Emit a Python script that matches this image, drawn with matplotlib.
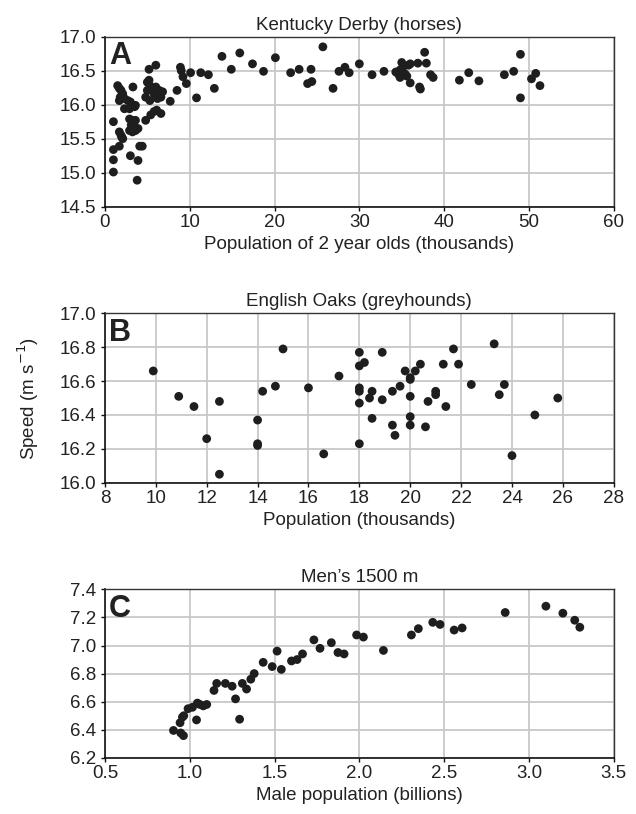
import matplotlib
matplotlib.use("Agg")
import matplotlib.pyplot as plt
import numpy as np

plt.rcParams['font.family'] = ['Liberation Sans', 'DejaVu Sans']

# Panel A: Kentucky Derby (horses)
derby_pop = [1.0, 1.0, 1.0, 1.0, 1.7, 3.8, 3.0, 3.9, 4.1, 4.4, 1.7, 2.0, 2.1,
             1.5, 1.7, 1.9, 2.1, 1.8, 1.7, 2.3, 2.7, 3.0, 2.3, 2.9, 3.5, 3.6, 3.3,
             2.9, 3.25, 3.6, 3.1, 3.4, 2.9, 3.6, 3.9, 3.25, 1.9,
             5.2, 6.0, 5.0, 5.3, 5.6, 6.0, 6.4, 6.8, 5.0, 5.8, 4.8, 5.3, 6.2, 6.6, 6.4, 5.2,
             7.7, 8.5, 4.8, 5.4, 5.8, 6.1, 6.6,
             8.9, 9.0, 9.2, 9.6, 10.1, 10.8, 11.3, 12.2, 12.9, 13.8, 14.9, 15.9,
             17.4, 18.7, 20.1, 21.9, 22.9, 24.3, 23.9, 24.4, 25.7, 26.9, 27.6, 28.3,
             28.8, 30.0, 31.5, 32.9, 34.3, 34.8, 35.0, 35.2, 35.4, 35.8, 36.0, 34.8,
             35.6, 34.6, 36.0, 36.9, 37.1, 37.2, 37.7, 37.9, 38.4, 38.7, 41.8, 42.9,
             44.1, 47.1, 48.2, 49.0, 49.0, 50.3, 50.8, 51.3]
derby_speed = [15.01, 15.19, 15.34, 15.75, 15.39, 14.89, 15.25, 15.18, 15.39, 15.39, 15.60, 15.52, 15.50,
               16.28, 16.24, 16.21, 16.16, 16.11, 16.06, 16.09, 16.06, 16.04, 15.94, 15.94, 15.97, 15.99, 16.26,
               15.79, 15.77, 15.77, 15.70, 15.70, 15.62, 15.62, 15.65, 15.60, 15.55,
               16.52, 16.58, 16.33, 16.28, 16.24, 16.26, 16.21, 16.19, 16.21, 16.16, 16.11, 16.06, 16.09, 16.11, 16.15, 16.36,
               16.05, 16.21, 15.77, 15.85, 15.90, 15.92, 15.87,
               16.55, 16.50, 16.41, 16.31, 16.47, 16.10, 16.47, 16.44, 16.24, 16.71, 16.52, 16.76,
               16.60, 16.49, 16.69, 16.47, 16.52, 16.52, 16.31, 16.34, 16.85, 16.24, 16.49, 16.55,
               16.47, 16.60, 16.44, 16.49, 16.48, 16.51, 16.62, 16.56, 16.45, 16.58, 16.60, 16.40,
               16.42, 16.45, 16.32, 16.61, 16.26, 16.23, 16.77, 16.61, 16.44, 16.40, 16.36, 16.47,
               16.35, 16.44, 16.49, 16.74, 16.10, 16.38, 16.46, 16.28]

# Panel B: English Oaks (greyhounds)
oaks_pop = [9.9, 10.9, 11.5, 12.0, 12.5, 12.5, 14.0, 14.0, 14.0, 14.2, 14.7, 15.0, 16.0,
            16.6, 17.2, 18.0, 18.0, 18.2, 18.0, 18.0, 18.0, 18.0, 18.5, 18.4, 18.5,
            18.9, 18.9, 19.3, 19.6, 19.3, 19.4, 19.8, 20.0, 20.0, 20.2, 20.4, 20.0,
            20.0, 20.0, 20.6, 20.7, 21.0, 21.0, 21.3, 21.4, 21.7, 21.9, 22.4, 23.3,
            23.5, 23.7, 24.0, 24.9, 25.8]
oaks_speed = [16.66, 16.51, 16.45, 16.26, 16.48, 16.05, 16.37, 16.23, 16.22, 16.54, 16.57, 16.79, 16.56,
              16.17, 16.63, 16.77, 16.69, 16.71, 16.56, 16.54, 16.47, 16.23, 16.54, 16.50, 16.38,
              16.77, 16.49, 16.54, 16.57, 16.34, 16.28, 16.66, 16.62, 16.61, 16.66, 16.70, 16.51,
              16.39, 16.34, 16.33, 16.48, 16.54, 16.52, 16.70, 16.45, 16.79, 16.70, 16.58, 16.82,
              16.52, 16.58, 16.16, 16.40, 16.50]

# Panel C: Men's 1500 m
m1500_pop = [0.904, 0.947, 0.963, 0.943, 0.957, 0.965, 0.99, 1.016, 1.045, 1.04, 1.06, 1.08, 1.10,
             1.143, 1.159, 1.21, 1.25, 1.27, 1.294, 1.31, 1.335, 1.36, 1.38, 1.433, 1.486,
             1.515, 1.54, 1.60, 1.633, 1.665, 1.732, 1.768, 1.835, 1.874, 1.91, 1.984, 2.024,
             2.142, 2.307, 2.348, 2.433, 2.476, 2.559, 2.606, 2.86, 3.10, 3.20, 3.27, 3.30]
m1500_speed = [6.395, 6.377, 6.358, 6.45, 6.49, 6.50, 6.55, 6.56, 6.59, 6.47, 6.58, 6.57, 6.58,
               6.68, 6.73, 6.73, 6.71, 6.62, 6.475, 6.73, 6.69, 6.76, 6.80, 6.88, 6.85,
               6.96, 6.83, 6.89, 6.90, 6.94, 7.04, 6.98, 7.02, 6.95, 6.94, 7.075, 7.06,
               6.965, 7.075, 7.12, 7.165, 7.15, 7.11, 7.125, 7.235, 7.28, 7.23, 7.18, 7.13]

fig = plt.figure(figsize=(6.36, 8.14), dpi=100)
left, width = 0.165, 0.800
axA = fig.add_axes([left, 0.746, width, 0.209])
axB = fig.add_axes([left, 0.407, width, 0.208])
axC = fig.add_axes([left, 0.069, width, 0.207])

fs = 13.5
grid_col = '#c8c8c8'

def style(ax, xlim, xticks, ylim, yticks, xfmt, yfmt, title, xlabel, letter):
    ax.set_xlim(*xlim)
    ax.set_ylim(*ylim)
    ax.set_xticks(xticks)
    ax.set_yticks(yticks)
    ax.set_xticklabels([xfmt.format(v) for v in xticks], fontsize=fs)
    ax.set_yticklabels([yfmt.format(v) for v in yticks], fontsize=fs)
    ax.grid(True, color=grid_col, linewidth=1.3)
    ax.set_axisbelow(True)
    for s in ['left', 'bottom']:
        ax.spines[s].set_color('#111111')
        ax.spines[s].set_linewidth(1.2)
    for s in ['top', 'right']:
        ax.spines[s].set_color('#333333')
        ax.spines[s].set_linewidth(1.0)
    ax.tick_params(axis='y', direction='out', length=3, width=1.0, pad=3,
                   colors='#111111', labelcolor='#222222')
    ax.tick_params(axis='x', direction='out', length=3, width=1.0, pad=2.5,
                   colors='#111111', labelcolor='#222222')
    ax.set_title(title, fontsize=fs, pad=5, color='#222222')
    ax.set_xlabel(xlabel, fontsize=fs, labelpad=3, color='#222222')
    ax.text(0.008, 0.975, letter, transform=ax.transAxes, fontsize=22,
            fontweight='bold', va='top', ha='left', color='#222222')

dot = dict(s=40, color='#1e1e1e', edgecolors='none', zorder=3)

axA.scatter(derby_pop, derby_speed, **dot)
style(axA, (0, 60), np.arange(0, 61, 10), (14.5, 17.0), np.arange(14.5, 17.01, 0.5),
      '{:.0f}', '{:.1f}', 'Kentucky Derby (horses)', 'Population of 2 year olds (thousands)', 'A')

axB.scatter(oaks_pop, oaks_speed, **dot)
style(axB, (8, 28), np.arange(8, 28.1, 2), (16.0, 17.0), np.arange(16.0, 17.01, 0.2),
      '{:.0f}', '{:.1f}', 'English Oaks (greyhounds)', 'Population (thousands)', 'B')
axB.set_ylabel('Speed (m s$^{-1}$)', fontsize=fs, color='#222222', labelpad=14)

axC.scatter(m1500_pop, m1500_speed, **dot)
style(axC, (0.5, 3.5), np.arange(0.5, 3.51, 0.5), (6.2, 7.4), np.arange(6.2, 7.41, 0.2),
      '{:.1f}', '{:.1f}', 'Men\u2019s 1500 m', 'Male population (billions)', 'C')

fig.savefig('out.png', dpi=100)
